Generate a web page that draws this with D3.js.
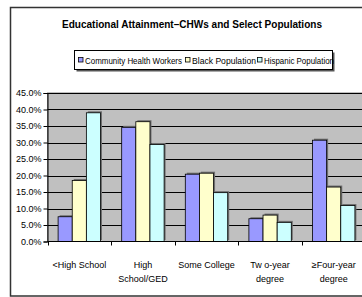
<!DOCTYPE html>
<html>
<head>
<meta charset="utf-8">
<style>
body { margin: 0; background: #fff; }
text { font-family: "Liberation Sans Narrow", "Liberation Sans", Arial, sans-serif; fill: #000; }
.tick text { font-size: 9px; }
</style>
</head>
<body>
<script src="https://cdn.jsdelivr.net/npm/d3@7"></script>
<script>

var categories = ["<High School", "High School/GED", "Some College", "Two-year degree", "\u2265Four-year degree"];
var labelLines = [["<High School"], ["High", "School/GED"], ["Some College"], ["Tw o-year", "degree"], ["\u2265Four-year", "degree"]];
var seriesNames = ["Community Health Workers", "Black Population", "Hispanic Population"];
var chw = [0.075, 0.346, 0.204, 0.069, 0.307];
var black = [0.185, 0.363, 0.207, 0.080, 0.165];
var hispanic = [0.390, 0.294, 0.148, 0.058, 0.109];
var yTicks = [0, 0.05, 0.10, 0.15, 0.20, 0.25, 0.30, 0.35, 0.40, 0.45];
var colors = ["#9999ff", "#ffffcc", "#ccffff"];

var width = 362, height = 297;
var plot = {left: 47.5, right: 365.5, top: 93, bottom: 241.5};

var svg = d3.select("body").append("svg")
    .attr("width", width)
    .attr("height", height);

// chart frame
svg.append("rect")
    .attr("x", 10.5).attr("y", 7.5)
    .attr("width", 360).attr("height", 288.5)
    .attr("fill", "#fff")
    .attr("stroke", "#333")
    .attr("stroke-width", 1.5);

svg.append("text")
    .attr("x", 192).attr("y", 28)
    .attr("text-anchor", "middle")
    .style("font-family", "'Liberation Sans', Arial, sans-serif")
    .style("font-size", "10.5px")
    .style("font-weight", "bold")
    .attr("textLength", 260)
    .attr("lengthAdjust", "spacingAndGlyphs")
    .text("Educational Attainment\u2013CHWs and Select Populations");

// legend
var legend = svg.append("g");
legend.append("rect")
    .attr("x", 76.5).attr("y", 52.5)
    .attr("width", 258).attr("height", 19)
    .attr("fill", "#555");
legend.append("rect")
    .attr("x", 74.5).attr("y", 50.5)
    .attr("width", 258).attr("height", 19)
    .attr("fill", "#fff")
    .attr("stroke", "#000");

var legendX = [78, 185, 257];
var legendW = [97, 64, 70];
seriesNames.forEach(function(name, i) {
  legend.append("rect")
      .attr("x", legendX[i] + 0.5).attr("y", 57.5)
      .attr("width", 4.5).attr("height", 4.5)
      .attr("fill", colors[i])
      .attr("stroke", "#000")
      .attr("stroke-width", 0.8);
  legend.append("text")
      .attr("x", legendX[i] + 7).attr("y", 63.5)
      .style("font-size", "9px")
      .attr("textLength", legendW[i])
      .attr("lengthAdjust", "spacingAndGlyphs")
      .text(name);
});

var x = d3.scaleBand()
    .domain(categories)
    .range([plot.left, plot.right]);

var x1 = d3.scaleBand()
    .domain(d3.range(3))
    .range([0, x.bandwidth()])
    .paddingOuter(0.75)
    .paddingInner(0);

var y = d3.scaleLinear()
    .domain([0, 0.45])
    .range([plot.bottom, plot.top]);

svg.append("rect")
    .attr("x", plot.left).attr("y", plot.top)
    .attr("width", plot.right - plot.left)
    .attr("height", plot.bottom - plot.top)
    .attr("fill", "#c0c0c0")
    .attr("stroke", "#808080");

svg.append("g")
    .selectAll("line")
    .data(yTicks.slice(1))
    .enter().append("line")
    .attr("x1", plot.left).attr("x2", plot.right)
    .attr("y1", function(d) { return Math.round(y(d)) + 0.5; })
    .attr("y2", function(d) { return Math.round(y(d)) + 0.5; })
    .attr("stroke", "#000");

var series = [chw, black, hispanic];

var groups = svg.append("g")
    .selectAll("g")
    .data(categories)
    .enter().append("g")
    .attr("transform", function(d) { return "translate(" + x(d) + ",0)"; });

groups.each(function(cat, ci) {
  var g = d3.select(this);
  series.forEach(function(vals, si) {
    var v = vals[ci];
    g.append("rect")
        .attr("x", x1(si) + 1.5)
        .attr("y", y(v) - 1.5)
        .attr("width", x1.bandwidth())
        .attr("height", plot.bottom - y(v))
        .attr("fill", "#6e6e6e");
  });
  series.forEach(function(vals, si) {
    var v = vals[ci];
    g.append("rect")
        .attr("x", x1(si))
        .attr("y", y(v))
        .attr("width", x1.bandwidth())
        .attr("height", plot.bottom - y(v))
        .attr("fill", colors[si])
        .attr("stroke", "#000")
        .attr("stroke-width", 0.8);
  });
});

// axes
var yAxis = svg.append("g")
    .attr("transform", "translate(" + plot.left + ",0)")
    .call(d3.axisLeft(y).tickValues(yTicks).tickFormat(d3.format(".1%")).tickSize(4).tickPadding(2));
yAxis.select(".domain").attr("stroke", "#000");
yAxis.selectAll(".tick text").style("font-family", "'Liberation Sans Narrow', 'Liberation Sans', sans-serif");

var xAxis = svg.append("g")
    .attr("transform", "translate(0," + plot.bottom + ")");
xAxis.append("line")
    .attr("x1", plot.left).attr("x2", plot.right)
    .attr("stroke", "#000");
xAxis.selectAll(".xt")
    .data(categories)
    .enter().append("line")
    .attr("x1", function(d) { return Math.round(x(d)) + 0.5; })
    .attr("x2", function(d) { return Math.round(x(d)) + 0.5; })
    .attr("y1", 0).attr("y2", 4)
    .attr("stroke", "#000");

categories.forEach(function(cat, i) {
  var t = svg.append("text")
      .attr("text-anchor", "middle")
      .style("font-size", "9px");
  labelLines[i].forEach(function(line, li) {
    t.append("tspan")
        .attr("x", x(cat) + x.bandwidth() / 2)
        .attr("y", 268 + li * 14)
        .text(line);
  });
});

</script>
</body>
</html>
